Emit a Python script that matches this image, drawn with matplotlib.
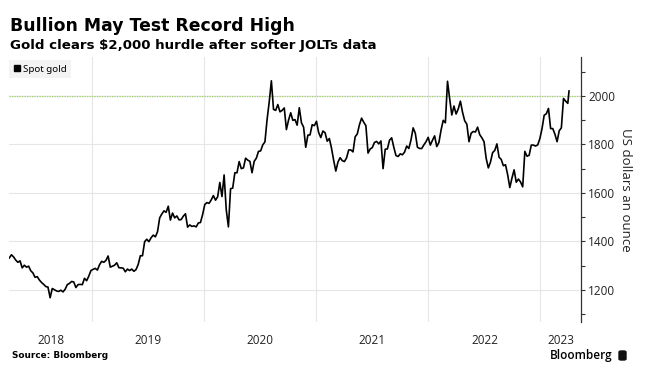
import matplotlib
matplotlib.use("Agg")
import matplotlib.pyplot as plt
import pandas as pd
from matplotlib.lines import Line2D
from matplotlib.patches import FancyBboxPatch

# weekly (Friday) spot gold, USD/oz
prices_2018 = [1332, 1345, 1336, 1323,
               1314, 1320, 1291, 1302,
               1294, 1298, 1279, 1270, 1252,
               1255, 1241, 1231, 1223,
               1214, 1212, 1168, 1206, 1201,
               1196, 1194, 1199, 1192,
               1203, 1222, 1227, 1235,
               1233, 1210, 1222, 1223, 1222,
               1248, 1238, 1257, 1280]
prices_2019 = [1285, 1289, 1282, 1304,
               1318, 1314, 1322, 1340,
               1294, 1298, 1302, 1312, 1292,
               1291, 1290, 1275, 1286,
               1280, 1286, 1277, 1284, 1305,
               1341, 1341, 1399, 1409,
               1399, 1415, 1426, 1419,
               1440, 1497, 1513, 1526, 1520,
               1545, 1488, 1517, 1497,
               1505, 1489, 1490, 1504,
               1514, 1459, 1468, 1462, 1464,
               1460, 1476, 1478, 1511]
prices_2020 = [1552, 1560, 1557, 1571, 1589,
               1570, 1584, 1643, 1585,
               1674, 1530, 1460, 1617,
               1620, 1683, 1683, 1729,
               1700, 1703, 1743, 1735, 1730,
               1683, 1730, 1743, 1771,
               1773, 1798, 1810, 1902, 1975,
               2062, 1944, 1940, 1964,
               1934, 1940, 1950, 1861,
               1900, 1930, 1899, 1902, 1879,
               1951, 1889, 1871, 1788,
               1838, 1839, 1881, 1877]
prices_2021 = [1895, 1849, 1828, 1855, 1848,
               1813, 1824, 1784, 1734,
               1690, 1727, 1745, 1733,
               1729, 1744, 1777, 1777, 1769,
               1831, 1843, 1881, 1908,
               1891, 1877, 1764, 1781,
               1787, 1808, 1812, 1802, 1814,
               1700, 1780, 1781, 1817,
               1827, 1788, 1754, 1750,
               1761, 1757, 1768, 1793, 1783,
               1818, 1868, 1846, 1788,
               1783, 1783, 1798, 1811, 1829]
prices_2022 = [1797, 1817, 1835, 1791,
               1808, 1859, 1899, 1889,
               2060, 1988, 1921, 1958,
               1925, 1946, 1978, 1932, 1897,
               1883, 1811, 1846, 1853,
               1851, 1871, 1840, 1827,
               1811, 1742, 1703, 1727, 1766,
               1775, 1802, 1747, 1738,
               1712, 1716, 1675, 1622, 1661,
               1695, 1644, 1657, 1645,
               1625, 1771, 1751, 1755,
               1797, 1797, 1793, 1798, 1824]
prices_2023 = [1865, 1920, 1926, 1948,
               1865, 1865, 1842, 1811,
               1856, 1868, 1989, 1978, 1969]
last_date = "2023-04-04"
last_price = 2020

years = ["2018", "2019", "2020", "2021", "2022", "2023"]
y_ticks = [1200, 1400, 1600, 1800, 2000]
hurdle = 2000

dates = list(pd.date_range("2018-04-06", "2023-03-31", freq="W-FRI")) + [pd.Timestamp(last_date)]
prices = prices_2018 + prices_2019 + prices_2020 + prices_2021 + prices_2022 + prices_2023 + [last_price]

W, H = 657, 388
fig = plt.figure(figsize=(W / 100, H / 100), dpi=100)
ax = fig.add_axes([9 / W, 1 - 322 / H, 572 / W, 265 / H])

x0, x1 = pd.Timestamp("2018-04-05"), pd.Timestamp("2023-05-13")
ax.set_xlim(x0, x1)
ax.set_ylim(1068, 2160)

# grid
for y in y_ticks:
    ax.axhline(y, color="#e6e6e6", lw=0.8, zorder=0)
for yr in years[1:]:
    ax.axvline(pd.Timestamp(yr + "-01-01"), color="#e6e6e6", lw=0.8, zorder=0)
ax.axhline(hurdle, color="#9fd36a", lw=0.9, ls=(0, (1, 1)), zorder=1)

ax.plot(dates, prices, color="black", lw=1.2, zorder=3)

# year labels centred in the visible part of each year
bounds = [x0] + [pd.Timestamp(y + "-01-01") for y in years[1:]] + [x1]
centres = [bounds[i] + (bounds[i + 1] - bounds[i]) / 2 for i in range(len(years))]
ax.set_xticks(centres)
ax.set_xticklabels(years, fontfamily="Open Sans", fontsize=8.5, color="#222222")
ax.tick_params(axis="x", length=0, pad=9)

ax.yaxis.tick_right()
ax.set_yticks(y_ticks)
ax.set_yticks(range(1100, 2200, 100), minor=True)
ax.set_yticklabels([str(v) for v in y_ticks], fontfamily="Open Sans", fontsize=8.5, color="#222222")
ax.tick_params(axis="y", which="major", length=3, width=0.8, color="#333333", pad=2)
ax.tick_params(axis="y", which="minor", length=3, width=0.8, color="#333333")
ax.yaxis.set_label_position("right")
ax.set_ylabel("US dollars an ounce", rotation=270, fontfamily="Open Sans",
              fontsize=9.5, color="#222222", labelpad=12)

for s in ["top", "left", "bottom"]:
    ax.spines[s].set_visible(False)
ax.spines["right"].set_color("#333333")
ax.spines["right"].set_linewidth(0.9)

leg = ax.legend(handles=[Line2D([], [], marker="s", color="black", ls="none", markersize=5)],
                labels=["Spot gold"], loc="upper left", bbox_to_anchor=(0, 0.99),
                borderaxespad=0, frameon=True, fancybox=False, handlelength=0.6,
                handletextpad=0.3, borderpad=0.5, prop={"family": "Noto Sans", "size": 7})
leg.get_frame().set_facecolor("#f0f0f0")
leg.get_frame().set_edgecolor("none")

fig.text(10 / W, 1 - 26 / H, "Bullion May Test Record High", fontsize=12.4,
         fontweight="bold", family="DejaVu Sans", va="center", ha="left")
fig.text(10 / W, 1 - 46 / H, "Gold clears $2,000 hurdle after softer JOLTs data", fontsize=9.6,
         fontweight="bold", family="DejaVu Sans", va="center", ha="left")
fig.text(12 / W, 1 - 356 / H, "Source: Bloomberg", fontsize=6.4, fontweight="bold",
         family="DejaVu Sans", va="center", ha="left")
fig.text(550 / W, 1 - 355 / H, "Bloomberg", fontsize=8.5, fontweight="semibold",
         family="Open Sans", va="center", ha="left")
fig.patches.append(FancyBboxPatch((619 / W, 1 - 360 / H), 7 / W, 9 / H,
                                  boxstyle="round,pad=0,rounding_size=0.003",
                                  transform=fig.transFigure, color="#111111"))

fig.savefig("out.png", dpi=100)
